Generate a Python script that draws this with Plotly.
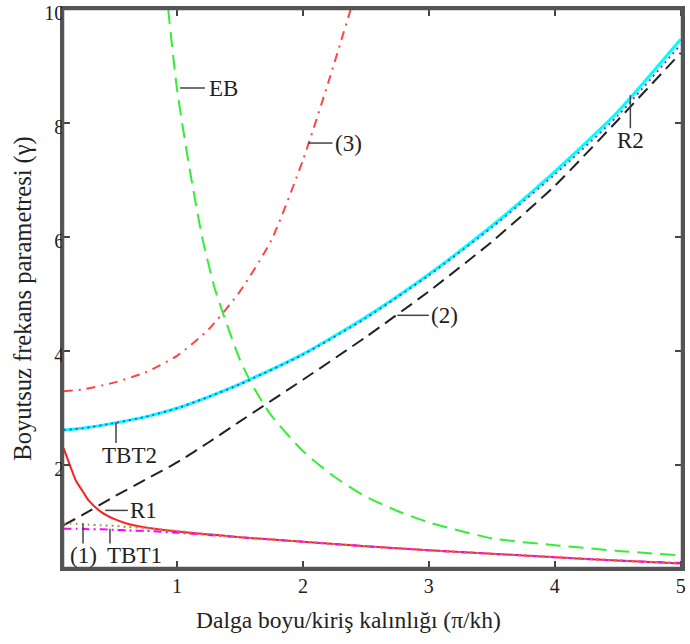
import plotly.graph_objects as go

# ---------------- data ----------------
x_low = [0.1, 0.15, 0.2, 0.25, 0.3, 0.4, 0.5, 0.6, 0.75, 1.0, 1.25, 1.5,
         2.0, 2.5, 3.0, 3.5, 4.0, 4.5, 5.0]
r1 = [2.3, 2.0, 1.72, 1.55, 1.38, 1.18, 1.06, 0.98, 0.91, 0.84, 0.79, 0.74,
      0.66, 0.58, 0.51, 0.45, 0.39, 0.33, 0.28]
tbt1 = [0.89, 0.89, 0.89, 0.89, 0.88, 0.88, 0.87, 0.86, 0.85, 0.82, 0.78, 0.74,
        0.66, 0.58, 0.51, 0.45, 0.39, 0.33, 0.29]
mode1 = [0.98, 0.98, 0.97, 0.97, 0.96, 0.95, 0.94, 0.92, 0.90, 0.85, 0.79, 0.74,
         0.66, 0.58, 0.51, 0.45, 0.39, 0.33, 0.28]

x_up = [0.1, 0.25, 0.5, 0.75, 1.0, 1.25, 1.5, 2.0, 2.5, 3.0, 3.5, 4.0, 4.5, 5.0]
tbt2 = [2.62, 2.65, 2.74, 2.85, 3.0, 3.2, 3.43, 3.95, 4.6, 5.35, 6.2, 7.15, 8.2, 9.47]
r2 = [2.62, 2.65, 2.74, 2.85, 3.0, 3.2, 3.42, 3.94, 4.58, 5.33, 6.17, 7.1, 8.13, 9.38]
mode2 = [0.95, 1.13, 1.45, 1.75, 2.05, 2.4, 2.77, 3.5, 4.25, 5.05, 5.92, 6.9, 8.05, 9.23]

x_m3 = [0.1, 0.25, 0.5, 0.75, 1.0, 1.25, 1.5, 1.75, 2.0, 2.2, 2.38]
mode3 = [3.3, 3.33, 3.45, 3.63, 3.92, 4.38, 5.05, 5.95, 7.35, 8.7, 10.0]

x_eb = [0.93, 1.0, 1.1, 1.2, 1.3, 1.4, 1.5, 1.6, 1.75, 2.0, 2.25, 2.5, 2.75,
        3.0, 3.5, 4.0, 4.5, 5.0]
eb = [10.0, 8.6, 7.2, 6.0, 5.1, 4.45, 3.85, 3.4, 2.87, 2.25, 1.8, 1.45, 1.2,
      1.0, 0.72, 0.6, 0.5, 0.42]

x_ticks = [1, 2, 3, 4, 5]
y_ticks = [2, 4, 6, 8, 10]

FONT = "Liberation Serif"
TXT = "#222222"

fig = go.Figure()

def add(x, y, color, width, dash):
    fig.add_trace(go.Scatter(x=x, y=y, mode="lines",
                             line=dict(color=color, width=width, dash=dash, shape="spline", smoothing=0.6),
                             hoverinfo="skip", showlegend=False))

add(x_eb, eb, "#33ee33", 2, "15px,8px")
add(x_m3, mode3, "#ff4444", 2, "9px,6px,2px,6px")
add(x_up, tbt2, "#00ffff", 3, "solid")
add(x_up, r2, "#3355ff", 2, "2px,4px")
add(x_up, mode2, "#222222", 2, "13px,7px")
add(x_low, r1, "#ff2020", 2, "solid")
add(x_low, tbt1, "#ff00ff", 2, "8px,4px,2px,4px")
add(x_low, mode1, "#b08860", 2, "2px,4px")

# label pointers (line segments) and label texts
segs = [
    ((1.024, 8.615), (1.222, 8.615)),   # EB
    ((2.04, 7.65), (2.235, 7.65)),      # (3)
    ((2.75, 4.63), (3.0, 4.63)),        # (2)
    ((4.6, 8.49), (4.6, 7.91)),         # R2
    ((0.516, 2.755), (0.516, 2.39)),    # TBT2
    ((0.43, 1.21), (0.61, 1.21)),       # R1
    ((0.254, 0.98), (0.254, 0.63)),     # (1)
    ((0.468, 0.89), (0.468, 0.63)),     # TBT1
]
for (x0, y0), (x1, y1) in segs:
    fig.add_shape(type="line", x0=x0, y0=y0, x1=x1, y1=y1,
                  line=dict(color="#444444", width=1.5))

labels = [
    ("EB", 1.235, 8.615, "left"),
    ("(3)", 2.24, 7.65, "left"),
    ("(2)", 3.0, 4.63, "left"),
    ("R2", 4.6, 7.70, "center"),
    ("TBT2", 0.62, 2.18, "center"),
    ("R1", 0.615, 1.21, "left"),
    ("(1)", 0.26, 0.42, "center"),
    ("TBT1", 0.66, 0.42, "center"),
]
for t, x, y, xa in labels:
    fig.add_annotation(x=x, y=y, text=t, showarrow=False, xanchor=xa, yanchor="middle",
                       font=dict(family=FONT, size=23, color=TXT))

# axis titles (placed as paper annotations)
fig.add_annotation(xref="paper", yref="paper", x=0.461, y=-0.093,
                   text="Dalga boyu/kiriş kalınlığı (π/kh)", showarrow=False,
                   xanchor="center", yanchor="middle",
                   font=dict(family=FONT, size=23.5, color=TXT))
fig.add_annotation(xref="paper", yref="paper", x=-0.066, y=0.482,
                   text="Boyutsuz frekans parametresi (γ)", showarrow=False, textangle=-90,
                   xanchor="center", yanchor="middle",
                   font=dict(family=FONT, size=24.5, color=TXT))

# plot frame
fig.add_shape(type="rect", xref="paper", yref="paper", x0=0, y0=0, x1=1, y1=1,
              line=dict(color="#555555", width=2.5), layer="above")

axis_common = dict(showline=True, linecolor="#555555", linewidth=2.5, mirror="ticks",
                   ticks="inside", ticklen=7, tickwidth=2, tickcolor="#444444",
                   showgrid=False, zeroline=False, automargin=False,
                   ticklabeloverflow="allow",
                   tickfont=dict(family=FONT, size=20, color=TXT))

fig.update_xaxes(range=[0.095, 5.01], tickvals=x_ticks, ticktext=[str(v) for v in x_ticks],
                 ticklabelstandoff=-2, **axis_common)
fig.update_yaxes(range=[0.2, 10.0], tickvals=y_ticks, ticktext=[str(v) for v in y_ticks],
                 ticklabelstandoff=-8, ticklabelshift=4, **axis_common)

fig.update_layout(width=690, height=644, paper_bgcolor="white", plot_bgcolor="white",
                  margin=dict(l=63, r=8, t=9, b=76), showlegend=False)

fig.write_html("out.html", config={"displayModeBar": False},
               post_script="document.body.style.margin='0px';"
                           "document.documentElement.style.margin='0px';"
                           "document.body.style.overflow='hidden';")
